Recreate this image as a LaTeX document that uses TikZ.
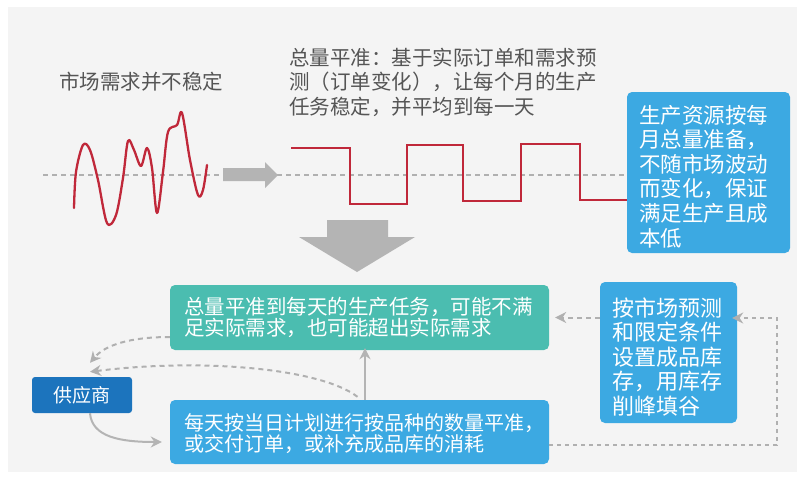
\documentclass[tikz,border=0pt]{standalone}
\usepackage{fontspec}
\setmainfont{Noto Sans CJK SC}
\usetikzlibrary{arrows.meta}
\definecolor{bgc}{HTML}{F4F4F4}
\definecolor{wavered}{HTML}{C0283A}
\definecolor{txtgrey}{HTML}{555555}
\definecolor{boxblue}{HTML}{3CA9E2}
\definecolor{boxteal}{HTML}{4BBDB0}
\definecolor{boxdark}{HTML}{1C74BD}
\definecolor{arrgrey}{HTML}{B4B4B4}
\definecolor{dashgrey}{HTML}{B0B0B0}
\tikzset{
  plaintext/.style={text=txtgrey, font=\fontsize{20.5}{24.5}\selectfont, inner sep=0pt},
  infobox/.style={rounded corners=5pt, text=white, align=left, inner ysep=0pt, inner xsep=14pt},
  dashline/.style={draw=dashgrey, line width=2pt, dash pattern=on 5pt off 4pt},
  dasharrow/.style={dashline, -{Stealth[length=11pt,width=11pt]}},
  solidarrow/.style={draw=arrgrey, line width=2pt, -{Stealth[length=11pt,width=11pt]}},
  bigarrow/.style={fill=arrgrey, draw=none},
  waveline/.style={draw=wavered, line width=2.3pt, line join=round, line cap=round},
}
\begin{document}
\begin{tikzpicture}[x=1pt,y=-1pt]
\useasboundingbox (0,0) rectangle (799,477);
\fill[bgc] (8,7) rectangle (797,472);

% baseline
\draw[dashline] (43,175) -- (627,175);

% top texts
\node[plaintext] (lbl1) at (141,82) {市场需求并不稳定};
\node[plaintext, anchor=west, align=left] (lbl2) at (289,82) {总量平准：基于实际订单和需求预\\测（订单变化），让每个月的生产\\任务稳定，并平均到每一天};

% wave
\draw[waveline] plot[smooth, tension=0.55] coordinates {(74,208) (76,172) (83,145) (90,150) (98,180) (107,223) (116,215) (123,178) (128,141) (134,150) (141,166) (147,148) (152,168) (157,213) (163,172) (168,132) (177,125) (182,113) (190,160) (198,195) (203,190) (207,165)};

% right arrow
\fill[bigarrow] (223,168) -- (265,168) -- (265,162) -- (278,175) -- (265,188) -- (265,181) -- (223,181) -- cycle;

% square wave
\draw[waveline, line cap=butt, line join=miter] (291,148) -- (350,148) -- (350,204) -- (407,204) -- (407,145) -- (463,145) -- (463,201) -- (521,201) -- (521,144) -- (580,144) -- (580,200) -- (627,200);

% top right box
\node[infobox, fill=boxblue, minimum width=163pt, minimum height=161pt, text width=139pt, inner xsep=12pt,
      font=\fontsize{21.5}{24.6}\selectfont] (tr) at (708.5,172.5)
  {\rule{0pt}{26pt}生产资源按每\\月总量准备，\\不随市场波动\\而变化，保证\\满足生产且成\\本低};

% big down arrow
\fill[bigarrow] (327,220) -- (388,220) -- (388,237) -- (415,237) -- (357,272) -- (299,237) -- (327,237) -- cycle;

% teal box
\node[infobox, fill=boxteal, minimum width=379pt, minimum height=65pt, text width=351pt,
      font=\fontsize{20.5}{21}\selectfont] (t) at (359.5,317.5)
  {总量平准到每天的生产任务，可能不满\\足实际需求，也可能超出实际需求};

% bottom box
\node[infobox, fill=boxblue, minimum width=379pt, minimum height=64pt, text width=351pt,
      font=\fontsize{20}{21}\selectfont] (b) at (359.5,432)
  {\rule{0pt}{20pt}每天按当日计划进行按品种的数量平准，\\或交付订单，或补充成品库的消耗};

% middle right box
\node[infobox, fill=boxblue, minimum width=137pt, minimum height=141pt, text width=113pt, inner xsep=12pt,
      font=\fontsize{22}{24.5}\selectfont] (r) at (668.5,352.5)
  {\rule{0pt}{27pt}按市场预测\\和限定条件\\设置成品库\\存，用库存\\削峰填谷};

% supplier
\node[rounded corners=3pt, fill=boxdark, text=white, minimum width=100pt, minimum height=36pt, inner sep=0pt,
      font=\fontsize{19}{21}\selectfont] (s) at (82,395) {供应商};

% connectors
\draw[dasharrow, shorten >=6pt] (r.west |- t.east) -- (t.east);
\coordinate (c1) at (777,445);
\coordinate (c2) at (777,318);
\draw[dashline, dash pattern=on 4pt off 4pt, -{Stealth[length=11pt,width=11pt]}, shorten >=-5pt]
  ([yshift=-13pt]b.east) -- (c1) -- (c2) -- (r.east |- c2);
\draw[solidarrow, shorten >=-2pt] ([xshift=5.5pt]b.north) -- ([xshift=5.5pt]t.south);
\draw[dasharrow] ([yshift=-19.5pt]t.west) .. controls (130,337) and (105,345) .. ([xshift=8pt,yshift=14pt]s.north);
\draw[dasharrow] ([xshift=-2pt,yshift=3pt]b.north) .. controls (320,368) and (200,358) .. ([xshift=8pt,yshift=5pt]s.north);
\draw[solidarrow, shorten >=8pt] ([xshift=8pt]s.south) .. controls (92,437) and (120,442) .. ([yshift=-10pt]b.west);
\end{tikzpicture}
\end{document}
